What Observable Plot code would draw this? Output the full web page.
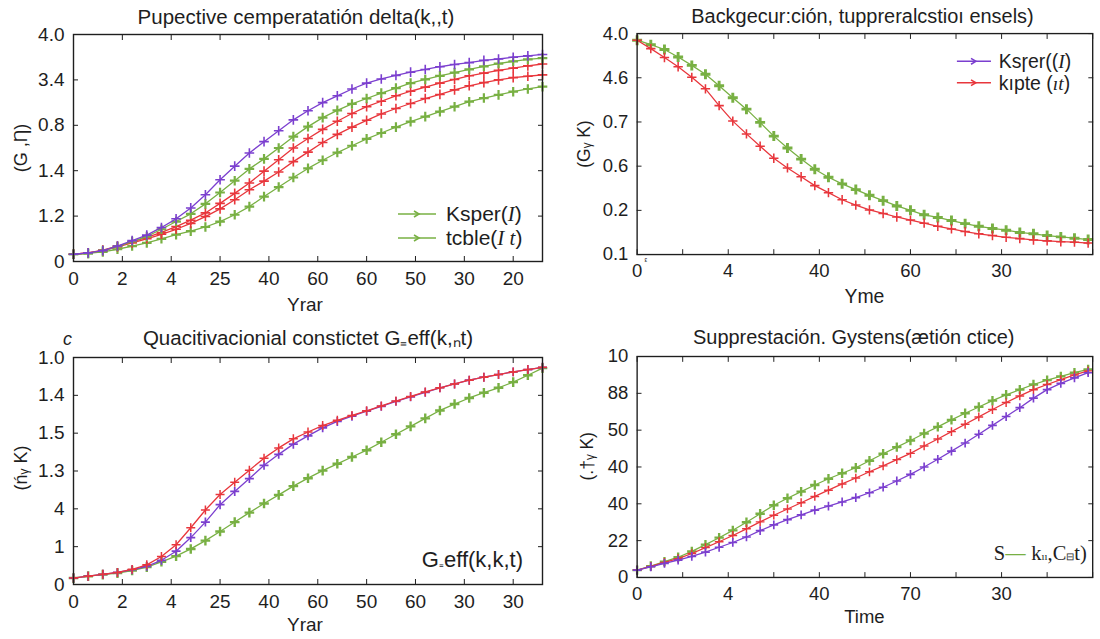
<!DOCTYPE html>
<html><head><meta charset="utf-8">
<script src="https://cdn.jsdelivr.net/npm/d3@7"></script>
<script src="https://cdn.jsdelivr.net/npm/@observablehq/plot@0.6"></script>
<style>
body{margin:0;width:1100px;height:639px;overflow:hidden;background:#fff;position:relative;font-family:"Liberation Sans",Arial,sans-serif;}
.panel{position:absolute;}
</style></head><body>
<div id="p1" class="panel" style="left:0;top:0"></div>
<div id="p2" class="panel" style="left:550px;top:0"></div>
<div id="p3" class="panel" style="left:0;top:320px"></div>
<div id="p4" class="panel" style="left:550px;top:320px"></div>
<script>
// ---------- tick labels ----------
const p1XLabels = ["0","2","4","25","40","60","60","50","30","20"];
const p1YLabels = ["0","1.2","1.4","0.8","3.4","4.0"];
const p2XLabels = ["0","4","40","60","30"];
const p2YLabels = ["0.1","0.2","0.6","0.7","4.6","4.0"];
const p3XLabels = ["0","2","4","25","40","60","50","60","30","30"];
const p3YLabels = ["0","1","4","1.3","1.5","1.4","1.0"];
const p4XLabels = ["0","4","40","70","30"];
const p4YLabels = ["0","22","40","40","50","88","10"];

// ---------- sample positions ----------
const p1X = [0,0.3,0.6,0.9,1.2,1.5,1.8,2.1,2.4,2.7,3,3.3,3.6,3.9,4.2,4.5,4.8,5.1,5.4,5.7,6,6.3,6.6,6.9,7.2,7.5,7.8,8.1,8.4,8.7,9,9.3,9.6];
const p2X = [0,0.15,0.3,0.45,0.6,0.75,0.9,1.05,1.2,1.35,1.5,1.65,1.8,1.95,2.1,2.25,2.4,2.55,2.7,2.85,3,3.15,3.3,3.45,3.6,3.75,3.9,4.05,4.2,4.35,4.5,4.65,4.8,4.95];
const p3X = p1X;
const p4X = p2X;

// ---------- panel 1 series ----------
const p1Purple = [0.16,0.19,0.24,0.34,0.46,0.58,0.75,0.94,1.18,1.47,1.8,2.1,2.39,2.64,2.88,3.12,3.32,3.5,3.65,3.8,3.93,4.02,4.1,4.17,4.23,4.29,4.34,4.38,4.43,4.46,4.5,4.53,4.56];
const p1GreenA = [0.16,0.18,0.24,0.33,0.44,0.55,0.71,0.88,1.05,1.27,1.52,1.78,2.04,2.26,2.5,2.75,2.97,3.17,3.33,3.47,3.59,3.71,3.82,3.93,4.01,4.09,4.16,4.23,4.3,4.36,4.41,4.45,4.48];
const p1RedA = [0.16,0.19,0.25,0.34,0.43,0.53,0.64,0.77,0.91,1.07,1.28,1.5,1.73,1.99,2.24,2.5,2.71,2.91,3.09,3.26,3.41,3.53,3.65,3.75,3.84,3.93,4.01,4.09,4.15,4.21,4.26,4.31,4.35];
const p1RedB = [0.16,0.19,0.24,0.32,0.41,0.5,0.6,0.71,0.84,0.99,1.16,1.36,1.58,1.77,1.97,2.2,2.41,2.62,2.8,2.96,3.11,3.25,3.37,3.48,3.59,3.68,3.78,3.87,3.94,4.0,4.05,4.08,4.11];
const p1GreenB = [0.16,0.18,0.21,0.27,0.34,0.41,0.5,0.59,0.67,0.76,0.88,1.03,1.21,1.43,1.64,1.85,2.05,2.23,2.4,2.55,2.7,2.83,2.96,3.08,3.19,3.3,3.41,3.52,3.6,3.67,3.74,3.8,3.85];

// ---------- panel 2 series ----------
const p2Green = [4.85,4.75,4.64,4.47,4.28,4.08,3.82,3.55,3.29,2.99,2.68,2.41,2.16,1.93,1.75,1.6,1.47,1.34,1.22,1.1,1.0,0.9,0.84,0.77,0.7,0.64,0.59,0.55,0.5,0.47,0.43,0.4,0.37,0.34];
const p2Red = [4.85,4.66,4.46,4.25,4.01,3.75,3.37,3.02,2.73,2.45,2.18,1.96,1.76,1.56,1.4,1.24,1.12,1.01,0.93,0.85,0.78,0.71,0.64,0.58,0.52,0.47,0.43,0.39,0.36,0.33,0.31,0.29,0.28,0.26];

// ---------- panel 3 series ----------
const p3Purple = [0.17,0.22,0.27,0.32,0.39,0.48,0.64,0.88,1.24,1.65,2.11,2.46,2.8,3.15,3.44,3.71,3.93,4.14,4.31,4.45,4.58,4.71,4.84,4.96,5.08,5.2,5.3,5.4,5.48,5.55,5.62,5.68,5.74];
const p3Red = [0.17,0.22,0.27,0.32,0.4,0.52,0.74,1.05,1.5,1.97,2.38,2.7,3.02,3.34,3.61,3.85,4.03,4.2,4.34,4.47,4.59,4.72,4.85,4.97,5.09,5.2,5.3,5.4,5.48,5.55,5.62,5.68,5.74];
const p3Green = [0.17,0.22,0.26,0.3,0.37,0.46,0.6,0.75,0.94,1.16,1.4,1.65,1.9,2.14,2.37,2.6,2.81,3.01,3.19,3.37,3.55,3.76,3.97,4.18,4.39,4.6,4.77,4.93,5.07,5.2,5.35,5.53,5.72];

// ---------- panel 4 series ----------
const p4Purple = [0.2,0.29,0.38,0.47,0.57,0.69,0.82,0.95,1.1,1.27,1.43,1.57,1.7,1.83,1.94,2.05,2.17,2.3,2.45,2.62,2.8,3.0,3.21,3.43,3.65,3.89,4.13,4.37,4.61,4.87,5.1,5.27,5.42,5.56];
const p4Red = [0.2,0.3,0.41,0.51,0.65,0.81,0.97,1.14,1.32,1.51,1.69,1.86,2.03,2.2,2.37,2.54,2.7,2.87,3.03,3.2,3.37,3.57,3.76,3.96,4.16,4.36,4.56,4.75,4.93,5.1,5.24,5.37,5.5,5.61];
const p4Green = [0.2,0.31,0.43,0.55,0.71,0.89,1.08,1.28,1.5,1.73,1.96,2.15,2.33,2.51,2.68,2.83,2.98,3.17,3.36,3.54,3.72,3.91,4.09,4.28,4.46,4.63,4.8,4.96,5.1,5.24,5.36,5.46,5.56,5.65];

const PURPLE = "#7b3fcf", RED = "#e8363c", GREEN = "#78b043";
const INK = "#1e1e1e";
const SANS = "'Liberation Sans', Arial, sans-serif";
const SERIF = "'Liberation Serif', 'DejaVu Serif', serif";

function drawPanel(cfg) {
  const {id, width, height, ml, mr, mt, mb, xMax, xLabels, yLabels, xMinor, xs, series} = cfg;
  const xTicks = xLabels.map((_, i) => i);
  const yTicks = yLabels.map((_, i) => i);
  const tickPos = xMinor || xTicks;
  const marks = [];
  for (const s of series) {
    const data = s.values.map((v, i) => ({x: xs[i], y: v}));
    marks.push(Plot.line(data, {x: "x", y: "y", stroke: s.color, strokeWidth: 1.3}));
    marks.push(Plot.dot(data, {x: "x", y: "y", symbol: "plus", r: s.r, stroke: s.color, strokeWidth: s.sw}));
  }
  marks.push(Plot.frame({stroke: INK, strokeWidth: 1.4}));
  marks.push(Plot.axisX({ticks: tickPos, anchor: "bottom", tickSize: -5, tickFormat: () => "", label: null, stroke: INK}));
  marks.push(Plot.axisX({ticks: tickPos, anchor: "top", tickSize: -5, tickFormat: () => "", label: null, stroke: INK}));
  marks.push(Plot.axisX({ticks: xTicks, anchor: "bottom", tickSize: 0, tickPadding: 10, tickFormat: i => xLabels[i], label: null}));
  marks.push(Plot.axisY({ticks: yTicks, anchor: "left", tickSize: -5, tickFormat: () => "", label: null, stroke: INK}));
  marks.push(Plot.axisY({ticks: yTicks, anchor: "right", tickSize: -5, tickFormat: () => "", label: null, stroke: INK}));
  marks.push(Plot.axisY({ticks: yTicks, anchor: "left", tickSize: 0, tickPadding: 9, tickFormat: i => yLabels[i], label: null}));
  const svg = Plot.plot({
    width, height, marginLeft: ml, marginRight: mr, marginTop: mt, marginBottom: mb,
    x: {domain: [0, xMax]},
    y: {domain: [0, yLabels.length - 1]},
    style: {fontFamily: SANS, fontSize: "19px", color: INK, background: "transparent", overflow: "visible"},
    marks
  });
  document.getElementById(id).appendChild(svg);
  return d3.select(svg);
}

function txt(sel, x, y, parts, opts = {}) {
  const t = sel.append("text").attr("x", x).attr("y", y)
    .attr("text-anchor", opts.anchor || "start")
    .attr("font-size", opts.size || 19)
    .attr("font-family", opts.family || SANS)
    .attr("fill", INK);
  if (opts.italic) t.attr("font-style", "italic");
  if (opts.rotate) t.attr("transform", `rotate(-90 ${x} ${y})`);
  for (const p of (Array.isArray(parts) ? parts : [[parts]])) {
    const ts = t.append("tspan").text(p[0]);
    const o = p[1] || {};
    if (o.family) ts.attr("font-family", o.family);
    if (o.italic) ts.attr("font-style", "italic");
    if (o.size) ts.attr("font-size", o.size);
    if (o.fill) ts.attr("fill", o.fill);
  }
  return t;
}

function legendLine(sel, x1, x2, y, color) {
  sel.append("line").attr("x1", x1).attr("x2", x2).attr("y1", y).attr("y2", y).attr("stroke", color).attr("stroke-width", 1.6);
  const m = (x1 + x2) / 2;
  sel.append("path").attr("d", `M${m-3},${y-3}L${m+2},${y}L${m-3},${y+3}`).attr("fill", "none").attr("stroke", color).attr("stroke-width", 1.6);
}

// ---------- panel 1 ----------
const s1 = drawPanel({
  id: "p1", width: 550, height: 320, ml: 73, mr: 8, mt: 34, mb: 59, xMax: 9.6,
  xLabels: p1XLabels, yLabels: p1YLabels, xs: p1X,
  series: [
    {values: p1GreenB, color: GREEN, r: 3.2, sw: 2.2},
    {values: p1RedB, color: RED, r: 3.2, sw: 1.6},
    {values: p1RedA, color: RED, r: 3.2, sw: 1.6},
    {values: p1GreenA, color: GREEN, r: 3.2, sw: 2.2},
    {values: p1Purple, color: PURPLE, r: 3.2, sw: 1.6}
  ]
});
txt(s1, 296, 24, "Pupective cemperatatión delta(k,,t)", {anchor: "middle", size: 20.5});
txt(s1, 305, 311, "Yrar", {anchor: "middle"});
txt(s1, 27, 148, "(G ,Ƞ)", {anchor: "middle", rotate: true, size: 18});
legendLine(s1, 398, 436, 214, GREEN);
legendLine(s1, 398, 436, 238, GREEN);
txt(s1, 446, 221, [["Ksper("], ["I", {family: SERIF, italic: true}], [")"]], {size: 21});
txt(s1, 446, 245, [["tcble("], ["I t", {family: SERIF, italic: true}], [")"]], {size: 21});

// ---------- panel 2 ----------
const s2 = drawPanel({
  id: "p2", width: 565, height: 320, ml: 89, mr: 8, mt: 34, mb: 59, xMax: 5,
  xLabels: p2XLabels, yLabels: p2YLabels, xs: p2X,
  xMinor: [0,0.5,1,1.5,2,2.5,3,3.5,4,4.5,5],
  series: [
    {values: p2Green, color: GREEN, r: 3.4, sw: 3},
    {values: p2Red, color: RED, r: 3.2, sw: 1.6}
  ]
});
txt(s2, 321, 24, "Backgecur:ción, tuppreralcstioı ensels)", {anchor: "middle", size: 20.5});
txt(s2, 323, 311, "Yme", {anchor: "middle", size: 20});
txt(s2, 41, 148, "(Gᵧ K)", {anchor: "middle", rotate: true, size: 18});
txt(s2, 97, 271, "ᵋ", {size: 9});
legendLine(s2, 418, 453, 63, PURPLE);
legendLine(s2, 418, 453, 85, RED);
txt(s2, 461, 70, [["Ksɼer(("], ["I", {family: SERIF, italic: true}], [")"]], {size: 20});
txt(s2, 461, 92, [["kıpte ("], ["ıt", {family: SERIF, italic: true}], [")"]], {size: 20});

// ---------- panel 3 ----------
const s3 = drawPanel({
  id: "p3", width: 550, height: 319, ml: 73, mr: 8, mt: 37, mb: 55, xMax: 9.6,
  xLabels: p3XLabels, yLabels: p3YLabels, xs: p3X,
  series: [
    {values: p3Green, color: GREEN, r: 3.2, sw: 2.4},
    {values: p3Purple, color: PURPLE, r: 3, sw: 1.7},
    {values: p3Red, color: RED, r: 3, sw: 1.5}
  ]
});
txt(s3, 308, 25, "Quacitivacionial constictet G₌eff(k,ₙt)", {anchor: "middle", size: 20.5});
txt(s3, 305, 311, "Yrar", {anchor: "middle"});
txt(s3, 27, 148, "(ńᵧ K)", {anchor: "middle", rotate: true, size: 18});
txt(s3, 63, 25, "c", {italic: true, size: 18});
txt(s3, 523, 247, [["G"], ["₌", {size: 14}], ["eff(k,k,t)"]], {anchor: "end", size: 22});

// ---------- panel 4 ----------
const s4 = drawPanel({
  id: "p4", width: 565, height: 319, ml: 89, mr: 8, mt: 37, mb: 55, xMax: 5,
  xLabels: p4XLabels, yLabels: p4YLabels, xs: p4X,
  xMinor: [0,0.5,1,1.5,2,2.5,3,3.5,4,4.5,5],
  series: [
    {values: p4Green, color: GREEN, r: 3.2, sw: 2.4},
    {values: p4Red, color: RED, r: 3, sw: 1.5},
    {values: p4Purple, color: PURPLE, r: 3, sw: 1.7}
  ]
});
txt(s4, 312, 25, "Supprestación. Gystens(ætión ctice)", {anchor: "middle", size: 20.5});
txt(s4, 323, 311, "Time", {anchor: "middle"});
txt(s4, 44, 140, "(.†ᵧ K)", {anchor: "middle", rotate: true, size: 18});
txt(s4, 456, 247, [["S"], ["— ", {fill: GREEN, family: SANS}], ["k"], ["ıı", {size: 11}], [",C"], ["⊟", {size: 10, family: SANS}], ["t)"]], {anchor: "start", size: 21, family: SERIF});
</script>
</body></html>
